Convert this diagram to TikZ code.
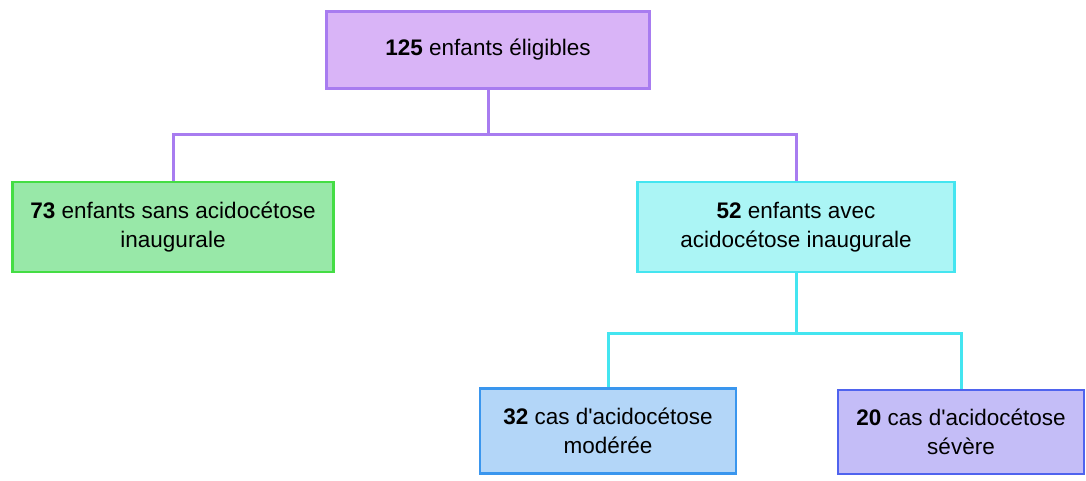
\documentclass[tikz,border=0pt]{standalone}
\usepackage{fontspec}
\setmainfont{Liberation Sans}
\usetikzlibrary{positioning}
\definecolor{colTop}{RGB}{217,180,247}
\definecolor{colTopLine}{RGB}{168,124,240}
\definecolor{colSans}{RGB}{152,232,168}
\definecolor{colSansLine}{RGB}{68,221,68}
\definecolor{colAvec}{RGB}{171,245,245}
\definecolor{colAvecLine}{RGB}{68,229,240}
\definecolor{colMod}{RGB}{179,214,248}
\definecolor{colModLine}{RGB}{58,150,238}
\definecolor{colSev}{RGB}{196,189,247}
\definecolor{colSevLine}{RGB}{79,99,238}
\tikzset{
  box/.style    = {rectangle, line width=2.5pt, text centered, align=center,
                   font=\fontsize{22.5}{29.5}\selectfont, inner sep=0pt},
  topbox/.style = {box, draw=colTopLine, fill=colTop,
                   minimum width=323pt, minimum height=77pt},
  sansbox/.style= {box, draw=colSansLine, fill=colSans,
                   minimum width=321pt, minimum height=90pt},
  avecbox/.style= {box, draw=colAvecLine, fill=colAvec,
                   minimum width=317pt, minimum height=90pt},
  modbox/.style = {box, draw=colModLine, fill=colMod,
                   minimum width=256pt, minimum height=85pt},
  sevbox/.style = {box, draw=colSevLine, fill=colSev,
                   minimum width=246pt, minimum height=84pt},
  plink/.style  = {line width=3pt, draw=colTopLine},
  clink/.style  = {line width=3pt, draw=colAvecLine},
}
\begin{document}
\begin{tikzpicture}[x=1pt, y=1pt]
\useasboundingbox (0,0) rectangle (1086,480);

\node[topbox]  (elig) at (488,430) {\textbf{125} enfants éligibles};

%% second level
\node[sansbox] (sans) at (173,253) {\textbf{73} enfants sans acidocétose\\inaugurale};
\node[avecbox] (avec) at (796,253) {\textbf{52} enfants avec\\acidocétose inaugurale};

%% third level
\node[modbox]  (mod)  at (608,49)  {\textbf{32} cas d\textquotesingle acidocétose\\modérée};
\node[sevbox]  (sev)  at (961,48)  {\textbf{20} cas d\textquotesingle acidocétose\\sévère};

%% Links
\draw[plink] (elig.south) -- ++(0,-45) -| (sans.north);
\draw[plink] (elig.south) -- ++(0,-45) -| (avec.north);
\draw[clink] (avec.south) -- ++(0,-60) -| (mod.north);
\draw[clink] (avec.south) -- ++(0,-60) -| (sev.north);

\end{tikzpicture}
\end{document}
